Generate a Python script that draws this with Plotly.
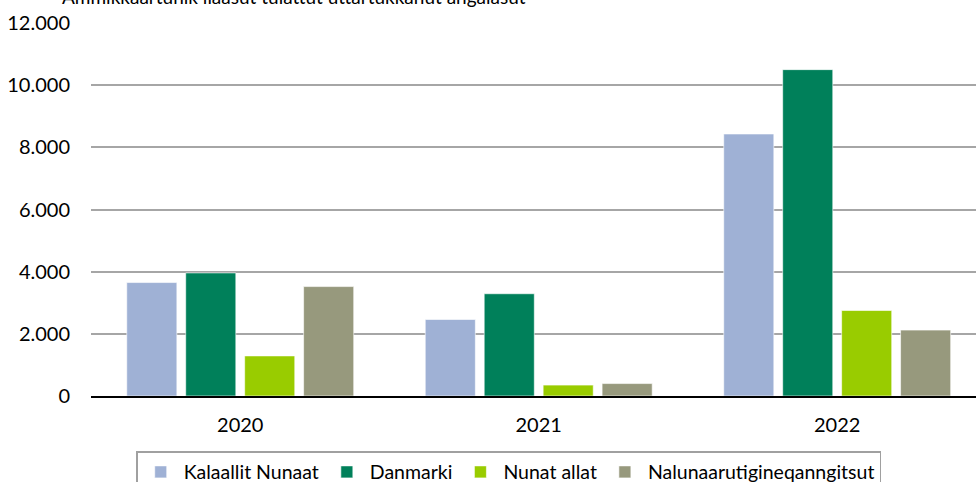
import plotly.graph_objects as go

years = ["2020", "2021", "2022"]
series_names = ["Kalaallit Nunaat", "Danmarki", "Nunat allat", "Nalunaarutigineqanngitsut"]
kalaallit = [3650, 2460, 8430]
danmarki = [3960, 3290, 10500]
nunat_allat = [1290, 350, 2750]
nalunaar = [3520, 400, 2120]
colors = ["#9FB1D5", "#00805A", "#99CC00", "#97997D"]
y_ticks = [0, 2000, 4000, 6000, 8000, 10000, 12000]
title_text = "Ammikkaartunik ilaasut tulattut uttartukkanut angalasut"

fig = go.Figure()
for name, vals, col in zip(series_names, [kalaallit, danmarki, nunat_allat, nalunaar], colors):
    fig.add_trace(go.Bar(
        x=years, y=vals, name=name,
        marker=dict(color=col, line=dict(color="rgba(255,255,255,0.6)", width=1)),
    ))

fig.update_layout(
    width=976, height=482,
    margin=dict(l=91, r=0, t=23, b=86, autoexpand=False),
    paper_bgcolor="white", plot_bgcolor="white",
    font=dict(family="Lato, Open Sans, sans-serif", size=20, color="#000000"),
    separators=",.",
    barmode="group", bargap=0.21, bargroupgap=0.15,
    showlegend=True,
    legend=dict(
        orientation="h", x=0.472, xanchor="center", y=-0.148, yanchor="top",
        bordercolor="#A0A0A0", borderwidth=1.5, font=dict(size=19.5),
        itemwidth=36, traceorder="normal",
    ),
    annotations=[dict(
        text=title_text, xref="paper", yref="paper", x=-0.035, y=1.036,
        xanchor="left", yanchor="bottom", showarrow=False, font=dict(size=19),
    )],
)
fig.update_xaxes(
    type="category", range=[-0.5, 2.465], showline=True, linecolor="#000000",
    linewidth=2, showgrid=False, ticks="", ticklabelstandoff=10, fixedrange=True,
)
fig.update_yaxes(
    range=[0, 12000], tickvals=y_ticks, tickformat=",d", showgrid=True,
    gridcolor="#A6A6A6", gridwidth=1.5, zeroline=False, showline=False,
    ticks="", ticklabelstandoff=20,
)
fig.write_html(
    "out.html",
    config={"displayModeBar": False},
    post_script="document.body.style.margin='0';document.body.style.overflow='hidden';",
)
